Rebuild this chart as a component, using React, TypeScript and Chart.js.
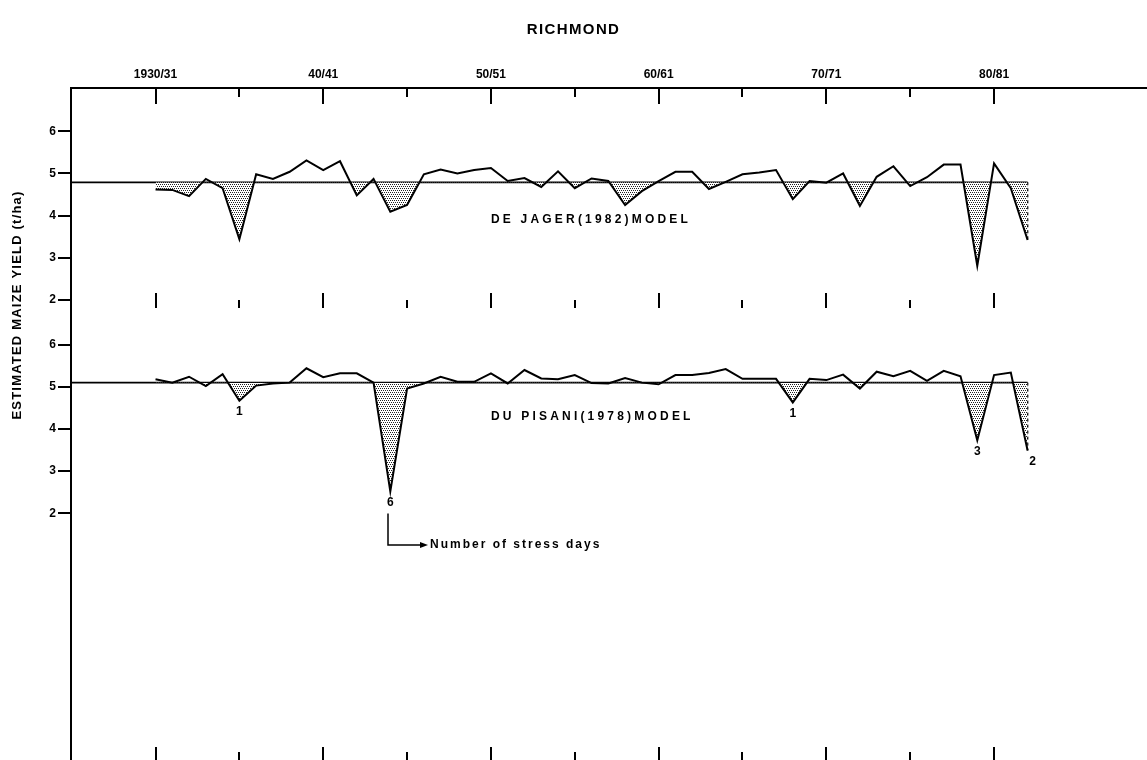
import { useEffect, useRef } from 'react';
import { Chart, registerables } from 'chart.js';

Chart.register(...registerables);

const seasons = [
  1930, 1931, 1932, 1933, 1934, 1935, 1936, 1937, 1938, 1939,
  1940, 1941, 1942, 1943, 1944, 1945, 1946, 1947, 1948, 1949,
  1950, 1951, 1952, 1953, 1954, 1955, 1956, 1957, 1958, 1959,
  1960, 1961, 1962, 1963, 1964, 1965, 1966, 1967, 1968, 1969,
  1970, 1971, 1972, 1973, 1974, 1975, 1976, 1977, 1978, 1979,
  1980, 1981, 1982,
];

const deJagerYield = [
  4.62, 4.61, 4.46, 4.87, 4.65, 3.44, 4.98, 4.87, 5.04, 5.31,
  5.08, 5.29, 4.48, 4.87, 4.09, 4.25, 4.98, 5.09, 5.0, 5.08,
  5.13, 4.82, 4.89, 4.68, 5.05, 4.65, 4.88, 4.82, 4.25, 4.58,
  4.82, 5.04, 5.04, 4.63, 4.8, 4.98, 5.02, 5.08, 4.39, 4.82,
  4.78, 5.0, 4.23, 4.92, 5.17, 4.7, 4.91, 5.21, 5.21, 2.81,
  5.24, 4.65, 3.42,
];

const duPisaniYield = [
  5.18, 5.1, 5.24, 5.02, 5.3, 4.67, 5.03, 5.08, 5.1, 5.44,
  5.23, 5.32, 5.32, 5.1, 2.52, 4.96, 5.08, 5.24, 5.12, 5.12,
  5.32, 5.08, 5.4, 5.2, 5.18, 5.28, 5.09, 5.08, 5.21, 5.1,
  5.06, 5.28, 5.28, 5.33, 5.42, 5.19, 5.19, 5.19, 4.63, 5.19,
  5.16, 5.29, 4.96, 5.36, 5.25, 5.38, 5.14, 5.38, 5.25, 3.73,
  5.28, 5.34, 3.49,
];

const deJagerMean = 4.79;
const duPisaniMean = 5.1;

const seasonTicks = [1930, 1935, 1940, 1945, 1950, 1955, 1960, 1965, 1970, 1975, 1980];
const seasonTickLabels = ['1930/31', '', '40/41', '', '50/51', '', '60/61', '', '70/71', '', '80/81'];
const yieldTicks = [2, 3, 4, 5, 6];

const stressSeasons = [1935, 1944, 1968, 1979, 1982];
const stressDayCounts = [1, 6, 1, 3, 2];

const chartTitle = 'RICHMOND';
const yAxisTitle = 'ESTIMATED MAIZE YIELD (t/ha)';
const deJagerLabel = 'DE JAGER(1982)MODEL';
const duPisaniLabel = 'DU PISANI(1978)MODEL';
const stressNote = 'Number of stress days';

// the upper panel is shifted up on the shared scale
const PANEL_OFFSET = 5.063;
const X_MIN = 1924.96;
const X_MAX = 1989.12;
const Y_MIN = -3.853;
const Y_MAX = 12.09;

const FONT = '"Liberation Sans", Arial, sans-serif';

function makePattern(ctx: CanvasRenderingContext2D) {
  const tile = document.createElement('canvas');
  tile.width = 4;
  tile.height = 4;
  const t = tile.getContext('2d')!;
  t.fillStyle = '#ffffff';
  t.fillRect(0, 0, 4, 4);
  t.fillStyle = '#222222';
  t.fillRect(0, 0, 1, 1);
  t.fillRect(2, 0, 1, 1);
  t.fillRect(1, 2, 1, 1);
  t.fillRect(3, 2, 1, 1);
  return ctx.createPattern(tile, 'repeat') as CanvasPattern;
}

const decorPlugin = {
  id: 'decor',
  afterDraw(chart: any) {
    const { ctx, chartArea, scales } = chart;
    const xs = scales.x;
    const ys = scales.y;
    ctx.save();
    ctx.strokeStyle = '#000';
    ctx.fillStyle = '#000';
    ctx.lineWidth = 2;
    const line = (x1: number, y1: number, x2: number, y2: number) => {
      ctx.beginPath();
      ctx.moveTo(x1, y1);
      ctx.lineTo(x2, y2);
      ctx.stroke();
    };
    const midBottom = ys.getPixelForValue(2 + PANEL_OFFSET) + 8;
    seasonTicks.forEach((v, i) => {
      const px = Math.round(xs.getPixelForValue(v));
      const major = i % 2 === 0;
      line(px, chartArea.top, px, chartArea.top + (major ? 16 : 9));
      line(px, midBottom - (major ? 15 : 8), px, midBottom);
      line(px, chartArea.bottom - (major ? 13 : 8), px, chartArea.bottom);
    });

    // titles
    ctx.textBaseline = 'middle';
    ctx.textAlign = 'center';
    ctx.font = `bold 15px ${FONT}`;
    (ctx as any).letterSpacing = '1.4px';
    ctx.fillText(chartTitle, chart.width / 2, 30);

    ctx.save();
    ctx.translate(17, 305);
    ctx.rotate(-Math.PI / 2);
    ctx.font = `bold 13px ${FONT}`;
    (ctx as any).letterSpacing = '1.2px';
    ctx.fillText(yAxisTitle, 0, 0);
    ctx.restore();

    // model labels
    ctx.textAlign = 'left';
    ctx.font = `bold 12px ${FONT}`;
    (ctx as any).letterSpacing = '3.2px';
    const labelX = xs.getPixelForValue(1950);
    ctx.fillText(deJagerLabel, labelX, ys.getPixelForValue(deJagerMean + PANEL_OFFSET) + 37);
    ctx.fillText(duPisaniLabel, labelX, ys.getPixelForValue(duPisaniMean) + 34);

    // stress day counts
    ctx.textAlign = 'center';
    (ctx as any).letterSpacing = '0px';
    ctx.font = `bold 12px ${FONT}`;
    stressSeasons.forEach((s, i) => {
      const idx = seasons.indexOf(s);
      const px = xs.getPixelForValue(s) + (i === stressSeasons.length - 1 ? 5 : 0);
      const py = ys.getPixelForValue(duPisaniYield[idx]) + 11;
      ctx.fillText(String(stressDayCounts[i]), px, py);
    });

    // arrow note
    const big = stressDayCounts.indexOf(Math.max(...stressDayCounts));
    const bigSeason = stressSeasons[big];
    const tipY = ys.getPixelForValue(duPisaniYield[seasons.indexOf(bigSeason)]);
    const ax = Math.round(xs.getPixelForValue(bigSeason)) - 2;
    const ay = Math.round(tipY + 54);
    ctx.lineWidth = 1.5;
    ctx.beginPath();
    ctx.moveTo(ax, tipY + 22);
    ctx.lineTo(ax, ay);
    ctx.lineTo(ax + 33, ay);
    ctx.stroke();
    ctx.beginPath();
    ctx.moveTo(ax + 40, ay);
    ctx.lineTo(ax + 32, ay - 3);
    ctx.lineTo(ax + 32, ay + 3);
    ctx.closePath();
    ctx.fill();
    ctx.textAlign = 'left';
    ctx.font = `bold 12px ${FONT}`;
    (ctx as any).letterSpacing = '2px';
    ctx.fillText(stressNote, ax + 42, ay);
    ctx.restore();
  },
};

export default function App() {
  const ref = useRef<HTMLCanvasElement | null>(null);

  useEffect(() => {
    const canvas = ref.current!;
    const ctx = canvas.getContext('2d')!;
    const pattern = makePattern(ctx);
    const last = seasons[seasons.length - 1];

    const chart = new Chart(canvas, {
      type: 'line',
      data: {
        datasets: [
          {
            data: seasons.map((s, i) => ({ x: s, y: deJagerYield[i] + PANEL_OFFSET })),
            borderColor: '#000',
            borderWidth: 2,
            pointRadius: 0,
            tension: 0,
            fill: { target: { value: deJagerMean + PANEL_OFFSET }, above: 'rgba(0,0,0,0)', below: pattern },
          },
          {
            data: seasons.map((s, i) => ({ x: s, y: duPisaniYield[i] })),
            borderColor: '#000',
            borderWidth: 2,
            pointRadius: 0,
            tension: 0,
            fill: { target: { value: duPisaniMean }, above: 'rgba(0,0,0,0)', below: pattern },
          },
          {
            data: [
              { x: X_MIN, y: deJagerMean + PANEL_OFFSET },
              { x: last, y: deJagerMean + PANEL_OFFSET },
            ],
            borderColor: '#000',
            borderWidth: 1.8,
            pointRadius: 0,
            fill: false,
          },
          {
            data: [
              { x: X_MIN, y: duPisaniMean },
              { x: last, y: duPisaniMean },
            ],
            borderColor: '#000',
            borderWidth: 1.8,
            pointRadius: 0,
            fill: false,
          },
          {
            data: [
              { x: last, y: deJagerMean + PANEL_OFFSET },
              { x: last, y: deJagerYield[deJagerYield.length - 1] + PANEL_OFFSET },
            ],
            borderColor: '#000',
            borderWidth: 1.5,
            borderDash: [3, 3],
            pointRadius: 0,
            fill: false,
          },
          {
            data: [
              { x: last, y: duPisaniMean },
              { x: last, y: duPisaniYield[duPisaniYield.length - 1] },
            ],
            borderColor: '#000',
            borderWidth: 1.5,
            borderDash: [3, 3],
            pointRadius: 0,
            fill: false,
          },
        ],
      },
      options: {
        animation: false,
        responsive: false,
        devicePixelRatio: 1,
        layout: { padding: 0, autoPadding: false },
        plugins: {
          legend: { display: false },
          title: { display: false },
          tooltip: { enabled: false },
        },
        scales: {
          x: {
            type: 'linear',
            position: 'top',
            min: X_MIN,
            max: X_MAX,
            afterBuildTicks: (scale: any) => {
              scale.ticks = seasonTicks.map((v) => ({ value: v }));
            },
            afterFit: (scale: any) => {
              scale.height = 88;
              scale.paddingLeft = 0;
              scale.paddingRight = 0;
            },
            grid: { drawOnChartArea: false, drawTicks: false },
            border: { display: true, color: '#000', width: 2 },
            ticks: {
              autoSkip: false,
              maxRotation: 0,
              padding: 6,
              color: '#000',
              font: { family: FONT, size: 12, weight: 'bold' },
              callback: (value: any) => {
                const i = seasonTicks.indexOf(Number(value));
                return i >= 0 ? seasonTickLabels[i] : '';
              },
            },
          },
          y: {
            type: 'linear',
            position: 'left',
            min: Y_MIN,
            max: Y_MAX,
            afterBuildTicks: (scale: any) => {
              scale.ticks = [
                ...yieldTicks.map((v) => ({ value: v })),
                ...yieldTicks.map((v) => ({ value: v + PANEL_OFFSET })),
              ];
            },
            afterFit: (scale: any) => {
              scale.width = 71;
              scale.paddingTop = 0;
              scale.paddingBottom = 0;
            },
            grid: {
              drawOnChartArea: false,
              drawTicks: true,
              tickLength: 13,
              color: '#000',
              lineWidth: 2,
            },
            border: { display: true, color: '#000', width: 2 },
            ticks: {
              padding: 2,
              color: '#000',
              font: { family: FONT, size: 12, weight: 'bold' },
              callback: (value: any) => {
                const v = Number(value);
                return String(Math.round(v > 6.5 ? v - PANEL_OFFSET : v));
              },
            },
          },
        },
      },
      plugins: [decorPlugin],
    } as any);

    return () => chart.destroy();
  }, []);

  return (
    <div style={{ position: 'absolute', left: 0, top: 0, width: 1147, height: 760, background: '#fff' }}>
      <canvas ref={ref} width={1147} height={760} style={{ display: 'block' }} />
    </div>
  );
}
